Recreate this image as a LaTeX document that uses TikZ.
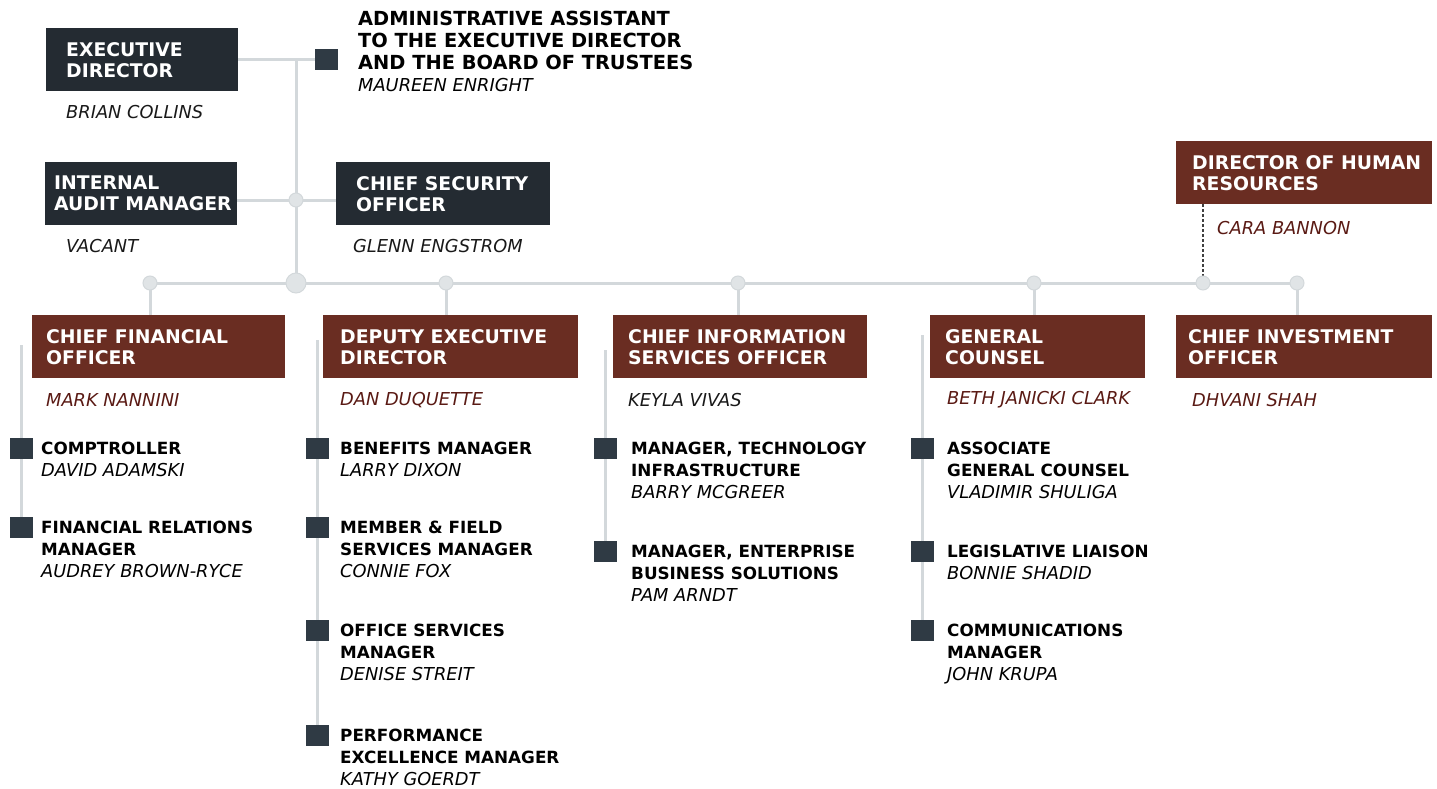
\documentclass[tikz,border=0pt]{standalone}
\usepackage{fontspec}
\setmainfont{DejaVu Sans}
\usepackage{tikz}
\usetikzlibrary{backgrounds}

\definecolor{boxdark}{HTML}{242B32}
\definecolor{boxbrown}{HTML}{6A2D22}
\definecolor{sqdark}{HTML}{2F3A44}
\definecolor{linegray}{HTML}{D3D8DB}
\definecolor{dotgray}{HTML}{E0E4E6}
\definecolor{namered}{HTML}{5A1A14}

\newcommand\boxfont{\fontsize{18.8}{21}\selectfont\bfseries}
\newcommand\subfont{\fontsize{16.8}{22}\selectfont\bfseries}
\newcommand\namefont{\fontsize{17.8}{22}\selectfont\mdseries\itshape}

\begin{document}
\begin{tikzpicture}[x=1pt,y=-1pt,
    conn/.style={draw=linegray, line width=3pt},
    hrline/.style={draw=black!75, line width=1.2pt, densely dashed},
    dot/.style={circle, fill=dotgray, draw=linegray, line width=1pt, minimum size=14pt, inner sep=0pt},
    hubdot/.style={dot, minimum size=20pt},
    darkbox/.style={anchor=north west, fill=boxdark, minimum height=63pt, inner sep=0pt},
    brownbox/.style={darkbox, fill=boxbrown},
    boxtext/.style={anchor=west, inner sep=0pt, text=white, font=\boxfont, align=left},
    who/.style={anchor=west, inner sep=0pt, font=\namefont, text=black!90},
    whored/.style={who, text=namered},
    sq/.style={rectangle, fill=sqdark, minimum width=23pt, minimum height=21pt, inner sep=0pt},
    item/.style={anchor=north west, inner sep=0pt, align=left, font=\subfont}
  ]
  \useasboundingbox (0,0) rectangle (1437,789);

  % top level
  \node[darkbox, minimum width=192pt] (ed) at (46,28) {};
  \node[boxtext] (edt) at ([xshift=20pt]ed.west) {EXECUTIVE\\DIRECTOR};
  \node[who] (edname) at (66,112) {BRIAN COLLINS};

  \node[sq] (adminsq) at (326,60) {};
  \node[item, font=\fontsize{19.4}{22}\selectfont\bfseries] (admin) at (358,11)
    {ADMINISTRATIVE ASSISTANT\\TO THE EXECUTIVE DIRECTOR\\AND THE BOARD OF TRUSTEES\\\namefont MAUREEN ENRIGHT};

  \node[darkbox, minimum width=192pt] (audit) at (45,162) {};
  \node[boxtext] (auditt) at ([xshift=9pt]audit.west) {INTERNAL\\AUDIT MANAGER};
  \node[who] (auditname) at (66,246) {VACANT};

  \node[darkbox, minimum width=214pt] (sec) at (336,162) {};
  \node[boxtext] (sect) at ([xshift=20pt]sec.west) {CHIEF SECURITY\\OFFICER};
  \node[who] (secname) at (353,246) {GLENN ENGSTROM};

  \node[brownbox, minimum width=256pt] (hr) at (1176,141) {};
  \node[boxtext] (hrt) at ([xshift=16pt]hr.west) {DIRECTOR OF HUMAN\\RESOURCES};
  \node[whored] (hrname) at (1217,228) {CARA BANNON};

  % junctions
  \coordinate (top) at (296,60);
  \node[dot] (jsec) at (296,200) {};
  \node[dot] (j1) at (150,283) {};
  \node[hubdot] (hub) at (296,283) {};
  \node[dot] (j2) at (446,283) {};
  \node[dot] (j3) at (738,283) {};
  \node[dot] (j4) at (1034,283) {};
  \node[dot] (jhr) at (1203,283) {};
  \node[dot] (j5) at (1297,283) {};

  % second level
  \node[brownbox, minimum width=253pt] (cfo) at (32,315) {};
  \node[boxtext] (cfot) at ([xshift=14pt]cfo.west) {CHIEF FINANCIAL\\OFFICER};
  \node[whored] (cfoname) at (46,400) {MARK NANNINI};
  \node[brownbox, minimum width=255pt] (ded) at (323,315) {};
  \node[boxtext] (dedt) at ([xshift=17pt]ded.west) {DEPUTY EXECUTIVE\\DIRECTOR};
  \node[whored] (dedname) at (340,400) {DAN DUQUETTE};
  \node[brownbox, minimum width=254pt] (ciso) at (613,315) {};
  \node[boxtext] (cisot) at ([xshift=15pt]ciso.west) {CHIEF INFORMATION\\SERVICES OFFICER};
  \node[who] (cisoname) at (628,400) {KEYLA VIVAS};
  \node[brownbox, minimum width=215pt] (gc) at (930,315) {};
  \node[boxtext] (gct) at ([xshift=15pt]gc.west) {GENERAL\\COUNSEL};
  \node[whored] (gcname) at (947,400) {BETH JANICKI CLARK};
  \node[brownbox, minimum width=256pt] (cio) at (1176,315) {};
  \node[boxtext] (ciot) at ([xshift=12pt]cio.west) {CHIEF INVESTMENT\\OFFICER};
  \node[whored] (cioname) at (1192,400) {DHVANI SHAH};

  % staff under CFO
  \coordinate (cfoline) at (21,345);
  \node[sq] (cfo1) at (21,448) {};
  \node[item] (cfo1t) at (41,442) {COMPTROLLER\\\namefont DAVID ADAMSKI};
  \node[sq] (cfo2) at (21,527) {};
  \node[item] (cfo2t) at (41,521) {FINANCIAL RELATIONS\\MANAGER\\\namefont AUDREY BROWN-RYCE};

  % staff under deputy
  \coordinate (dedline) at (317,340);
  \node[sq] (ded1) at (317,448) {};
  \node[item] (ded1t) at (340,442) {BENEFITS MANAGER\\\namefont LARRY DIXON};
  \node[sq] (ded2) at (317,527) {};
  \node[item] (ded2t) at (340,521) {MEMBER \& FIELD\\SERVICES MANAGER\\\namefont CONNIE FOX};
  \node[sq] (ded3) at (317,630) {};
  \node[item] (ded3t) at (340,624) {OFFICE SERVICES\\MANAGER\\\namefont DENISE STREIT};
  \node[sq] (ded4) at (317,735) {};
  \node[item] (ded4t) at (340,729) {PERFORMANCE\\EXCELLENCE MANAGER\\\namefont KATHY GOERDT};

  % staff under CISO
  \coordinate (cisoline) at (605,350);
  \node[sq] (ciso1) at (605,448) {};
  \node[item] (ciso1t) at (631,442) {MANAGER, TECHNOLOGY\\INFRASTRUCTURE\\\namefont BARRY MCGREER};
  \node[sq] (ciso2) at (605,551) {};
  \node[item] (ciso2t) at (631,545) {MANAGER, ENTERPRISE\\BUSINESS SOLUTIONS\\\namefont PAM ARNDT};

  % staff under GC
  \coordinate (gcline) at (922,335);
  \node[sq] (gc1) at (922,448) {};
  \node[item] (gc1t) at (947,442) {ASSOCIATE\\GENERAL COUNSEL\\\namefont VLADIMIR SHULIGA};
  \node[sq] (gc2) at (922,551) {};
  \node[item] (gc2t) at (947,545) {LEGISLATIVE LIAISON\\\namefont BONNIE SHADID};
  \node[sq] (gc3) at (922,630) {};
  \node[item] (gc3t) at (947,624) {COMMUNICATIONS\\MANAGER\\\namefont JOHN KRUPA};

  % connectors, behind the boxes
  \begin{scope}[on background layer]
  \draw[conn] (ed.east |- top) -- (top) -- (adminsq.center);
  \draw[conn] (top) -- (hub.center);
  \draw[conn] (audit.east |- jsec) -- (sec.west |- jsec);
  \draw[conn] (j1.center) -- (j5.center);
  \draw[conn] (j1.center) -- (j1 |- cfo.north);
  \draw[conn] (j2.center) -- (j2 |- ded.north);
  \draw[conn] (j3.center) -- (j3 |- ciso.north);
  \draw[conn] (j4.center) -- (j4 |- gc.north);
  \draw[conn] (j5.center) -- (j5 |- cio.north);
  \draw[hrline] (jhr |- hr.south) -- (jhr);
  \draw[conn] (cfoline) -- (cfo2.center);
  \draw[conn] (dedline) -- (ded4.center);
  \draw[conn] (cisoline) -- (ciso2.center);
  \draw[conn] (gcline) -- (gc3.center);
  \end{scope}
\end{tikzpicture}
\end{document}
